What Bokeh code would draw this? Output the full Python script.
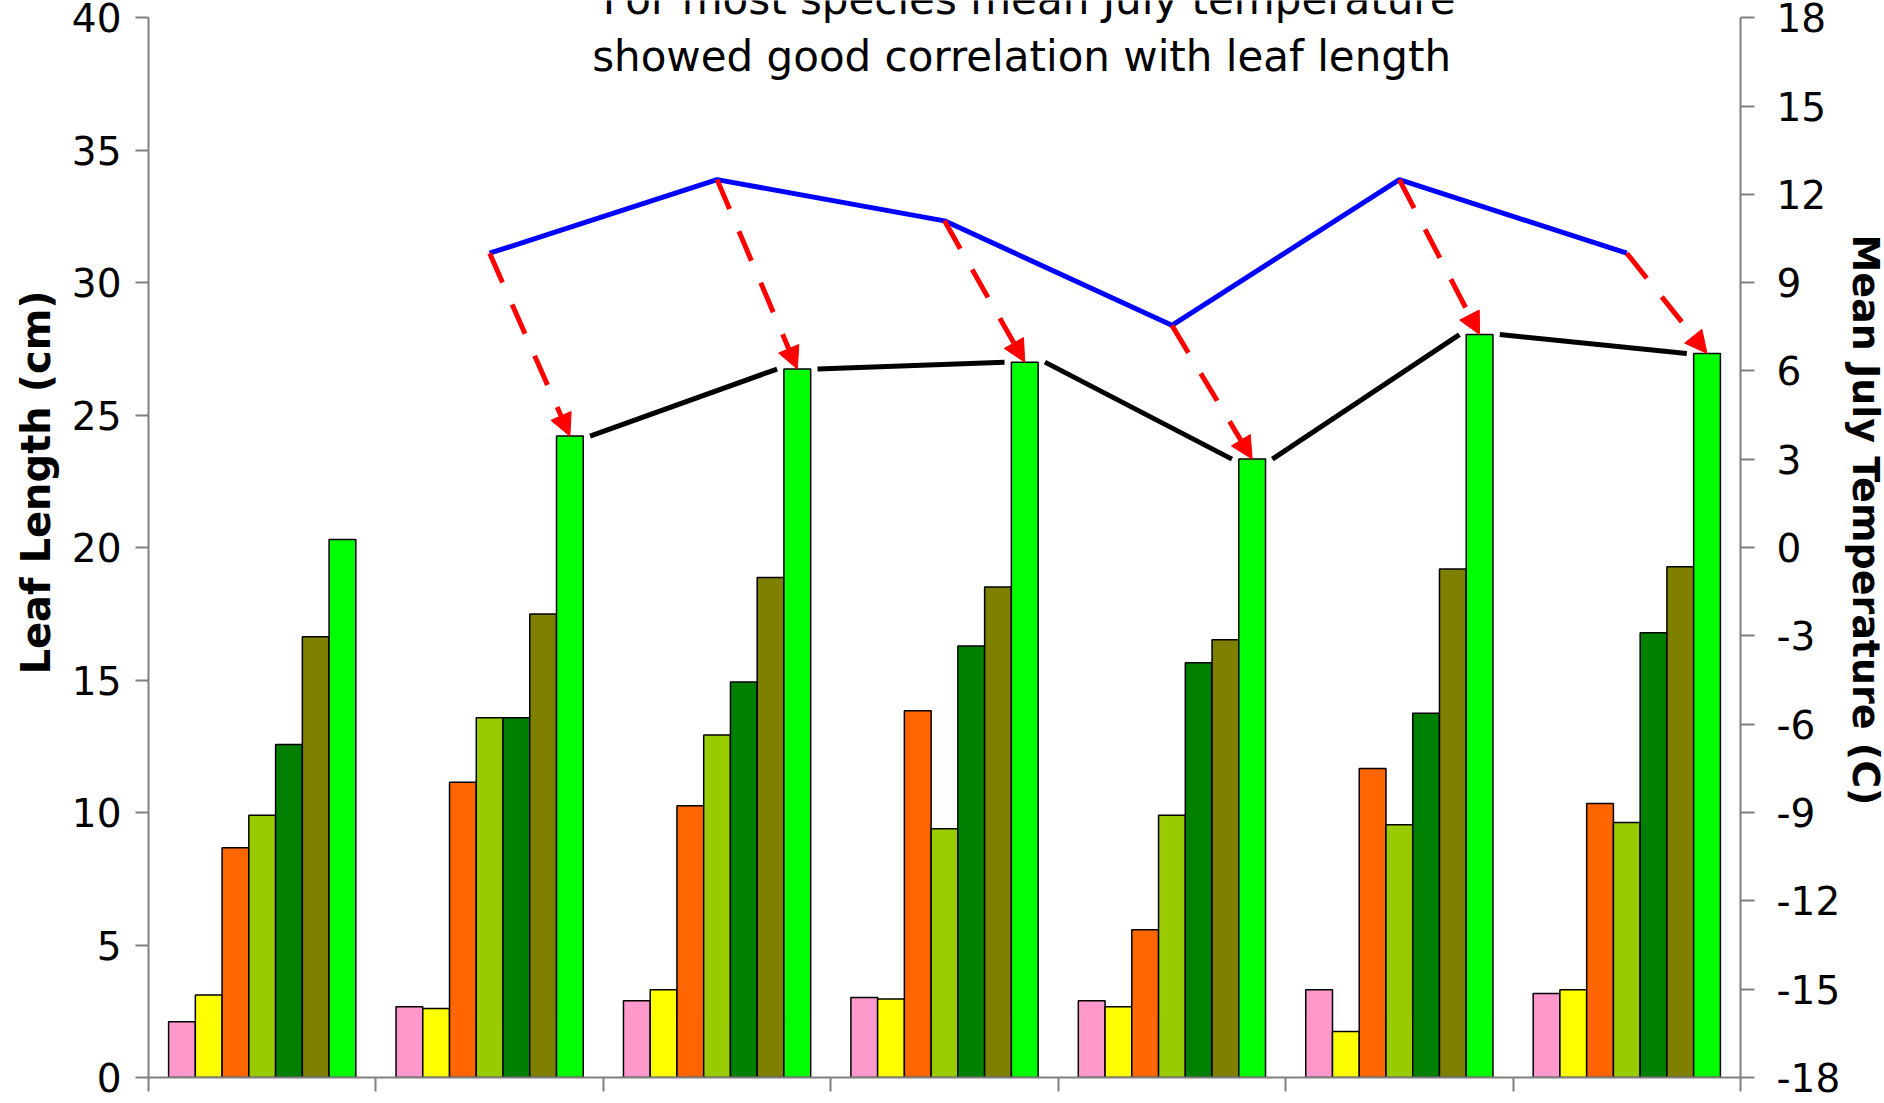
import numpy as np
from bokeh.plotting import figure
from bokeh.models import (Range1d, LinearAxis, FixedTicker, Title,
                          ColumnDataSource, Arrow, NormalHead, Label)
from bokeh.embed import file_html
from bokeh.resources import INLINE

# ---------------- data ----------------
sites = ["Site 1", "Site 2", "Site 3", "Site 4", "Site 5", "Site 6", "Site 7"]
series_names = ["Species 1", "Species 2", "Species 3", "Species 4",
                "Species 5", "Species 6", "Species 7"]
series_colors = ["#FF99CC", "#FFFF00", "#FF6600", "#99CC00",
                 "#008000", "#808000", "#00FF00"]

species1 = [2.10, 2.67, 2.90, 3.02, 2.90, 3.31, 3.17]
species2 = [3.11, 2.60, 3.31, 2.96, 2.67, 1.74, 3.31]
species3 = [8.67, 11.14, 10.26, 13.84, 5.58, 11.66, 10.34]
species4 = [9.90, 13.58, 12.93, 9.39, 9.90, 9.54, 9.62]
species5 = [12.57, 13.58, 14.93, 16.29, 15.65, 13.75, 16.79]
species6 = [16.64, 17.49, 18.87, 18.51, 16.52, 19.19, 19.28]
species7 = [20.31, 24.21, 26.74, 27.00, 23.34, 28.04, 27.33]
all_series = [species1, species2, species3, species4, species5, species6, species7]

temp_sites = sites[1:]
july_temp = [10.0, 12.5, 11.1, 7.55, 12.5, 10.0]

title_lines = ["For most species mean July temperature",
               "showed good correlation with leaf length"]
left_title = "Leaf Length (cm)"
right_title = "Mean July Temperature (C)"

LEN_MIN, LEN_MAX = 0, 40
T_MIN, T_MAX = -18, 18
len_ticks = list(range(0, 41, 5))
temp_ticks = list(range(-18, 19, 3))

# headroom above the axes (frame reaches the top edge, axes stop at 40 / 18)
Y_PAD = 0.65
T_PAD = Y_PAD * (T_MAX - T_MIN) / (LEN_MAX - LEN_MIN)

# category slot centres (one unit per site)
site_pos = {s: i + 0.5 for i, s in enumerate(sites)}
centers = np.array([site_pos[s] for s in sites])

# ---------------- figure ----------------
p = figure(x_range=Range1d(0, len(sites)),
           y_range=Range1d(LEN_MIN, LEN_MAX + Y_PAD),
           frame_width=1592, frame_height=1077,
           min_border_left=148, min_border_right=142,
           min_border_top=0, min_border_bottom=23,
           output_backend="svg", toolbar_location=None, title=None)
p.extra_y_ranges = {"temp": Range1d(T_MIN, T_MAX + T_PAD)}
p.background_fill_color = "white"
p.border_fill_color = "white"
p.outline_line_color = None

AX_COLOR = "#808080"
FONT = "DejaVu Sans"

def style_axis(ax, tick_out, standoff):
    ax.axis_line_color = AX_COLOR
    ax.axis_line_width = 2
    ax.major_tick_line_color = AX_COLOR
    ax.major_tick_line_width = 2
    ax.major_tick_out = tick_out
    ax.major_tick_in = 0
    ax.minor_tick_out = 0
    ax.minor_tick_in = 0
    ax.major_label_text_font = FONT
    ax.major_label_text_font_size = "39px"
    ax.major_label_text_color = "black"
    ax.major_label_standoff = standoff

ly = p.yaxis[0]
ly.ticker = FixedTicker(ticks=len_ticks)
ly.bounds = (LEN_MIN, LEN_MAX)
style_axis(ly, 13, 14)

ry = LinearAxis(y_range_name="temp", ticker=FixedTicker(ticks=temp_ticks),
                bounds=(T_MIN, T_MAX))
style_axis(ry, 14, 22)
ry.major_label_overrides = {t: str(t) for t in temp_ticks}
p.add_layout(ry, "right")

bx = p.xaxis[0]
bx.ticker = FixedTicker(ticks=list(range(len(sites) + 1)))
style_axis(bx, 14, 0)
bx.major_label_text_font_size = "1px"
bx.major_label_overrides = {i: "" for i in range(len(sites) + 1)}

# ---------------- axis titles ----------------
lt = Title(text=left_title, align="left", offset=403, standoff=20,
           text_font=FONT, text_font_size="40px", text_font_style="bold",
           text_color="black")
p.add_layout(lt, "left")
rt = Title(text=right_title, align="left", offset=234, standoff=0,
           text_font=FONT, text_font_size="38px", text_font_style="bold",
           text_color="black")
p.add_layout(rt, "right")

# ---------------- bars ----------------
n = len(all_series)
w = 0.1176
for k, (name, vals, col) in enumerate(zip(series_names, all_series, series_colors)):
    off = (k - (n - 1) / 2) * w
    src = ColumnDataSource(dict(x=centers + off, value=vals))
    p.vbar(x="x", top="value", width=w,
           source=src, fill_color=col, line_color="black", line_width=1.5)

# ---------------- black line joining tallest bars ----------------
last_off = ((n - 1) / 2) * w
ta = np.array([site_pos[s] for s in sites[1:-1]])
tb = np.array([site_pos[s] for s in sites[2:]])
seg_src = ColumnDataSource(dict(x0=ta + last_off + w / 2 + 0.03, y0=species7[1:-1],
                                x1=tb + last_off - w / 2 - 0.03, y1=species7[2:]))
p.segment(x0="x0", y0="y0", x1="x1", y1="y1",
          source=seg_src, line_color="black", line_width=5)

# ---------------- blue temperature line ----------------
tx = np.array([site_pos[s] for s in temp_sites])
t_src = ColumnDataSource(dict(x=tx, temp=july_temp))
p.line(x="x", y="temp", source=t_src, y_range_name="temp",
       line_color="#0000FF", line_width=5)

# ---------------- red dashed arrows ----------------
temp_arr = np.array(july_temp)
y_start = LEN_MIN + (temp_arr - T_MIN) / (T_MAX - T_MIN) * (LEN_MAX - LEN_MIN)
a_src = ColumnDataSource(dict(xs=tx, ys=y_start, xe=tx + last_off,
                              ye=np.array(species7[1:])))
arrow = Arrow(end=NormalHead(size=22, fill_color="#FF0000", line_color="#FF0000",
                             line_width=1),
              x_start="xs", y_start="ys", x_end="xe", y_end="ye", source=a_src,
              line_color="#FF0000", line_width=5, line_dash="32 24")
p.add_layout(arrow)

# ---------------- chart heading ----------------
p.add_layout(Label(x=3.872, y=40.67, text=title_lines[0], text_align="center",
                   text_baseline="alphabetic", text_font=FONT,
                   text_font_size="42px", text_color="black"))
p.add_layout(Label(x=3.839, y=38.53, text=title_lines[1], text_align="center",
                   text_baseline="alphabetic", text_font=FONT,
                   text_font_size="42px", text_color="black"))

p.grid.visible = False

open("out.html", "w").write(file_html(p, INLINE))
